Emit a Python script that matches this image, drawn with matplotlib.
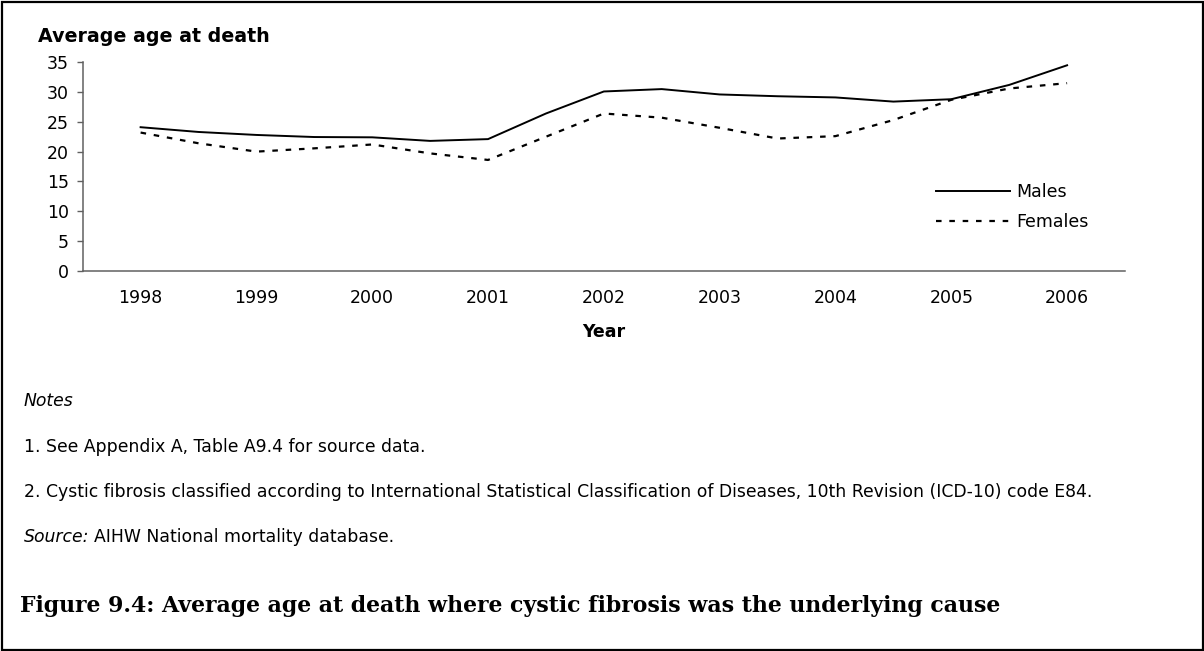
import matplotlib.pyplot as plt
from matplotlib.patches import Rectangle

plt.rcParams['font.family'] = ['DejaVu Sans']

# half-yearly points, labels on whole years
periods = [1998.0, 1998.5, 1999.0, 1999.5, 2000.0, 2000.5, 2001.0, 2001.5, 2002.0,
           2002.5, 2003.0, 2003.5, 2004.0, 2004.5, 2005.0, 2005.5, 2006.0]
males = [24.1, 23.3, 22.8, 22.45, 22.4, 21.8, 22.1, 26.4, 30.1,
         30.5, 29.6, 29.3, 29.1, 28.4, 28.8, 31.2, 34.5]
females = [23.2, 21.4, 20.0, 20.55, 21.2, 19.7, 18.6, 22.5, 26.4,
           25.7, 24.0, 22.2, 22.6, 25.3, 28.7, 30.6, 31.5]
year_labels = ['1998', '1999', '2000', '2001', '2002', '2003', '2004', '2005', '2006']
y_ticks = [0, 5, 10, 15, 20, 25, 30, 35]

W, H = 1204, 651
fig = plt.figure(figsize=(W/100, H/100), dpi=100)
ax = fig.add_axes([82.7/W, 1 - 270.7/H, (1125 - 82.7)/W, (270.7 - 62.3)/H])

ax.plot(periods, males, color='black', lw=1.4, label='Males')
ax.plot(periods, females, color='black', lw=1.6, ls=(0, (2.5, 3.5)), label='Females')

ax.set_xlim(1997.5, 2006.5)
ax.set_ylim(0, 35)
ax.set_xticks([int(y) for y in year_labels])
ax.set_xticklabels(year_labels, fontsize=12.5)
ax.set_yticks(y_ticks)
ax.set_yticklabels([str(v) for v in y_ticks], fontsize=12.5)
ax.tick_params(axis='x', length=0, pad=13)
ax.tick_params(axis='y', length=4.5, width=1, color='#606060', pad=5.5)
for s in ['top', 'right']:
    ax.spines[s].set_visible(False)
for s in ['left', 'bottom']:
    ax.spines[s].set_color('#606060')
    ax.spines[s].set_linewidth(1.1)

ax.set_xlabel('Year', fontsize=12.5, fontweight='bold', labelpad=12)

ax.legend(loc='center left', bbox_to_anchor=(927/W, 1 - 207/H), bbox_transform=fig.transFigure,
          frameon=False, borderpad=0, fontsize=12.5, handlelength=4.3,
          handletextpad=0.35, labelspacing=0.7)

fig.text(38/W, 1 - 37/H, 'Average age at death', fontsize=13.7, fontweight='bold', va='center')

nfs = 12.4
fig.text(24/W, 1 - 401/H, 'Notes', fontsize=nfs, style='italic', va='center')
fig.text(24/W, 1 - 447/H, '1. See Appendix A, Table A9.4 for source data.', fontsize=nfs, va='center')
fig.text(24/W, 1 - 492/H,
         '2. Cystic fibrosis classified according to International Statistical Classification of Diseases, '
         '10th Revision (ICD-10) code E84.', fontsize=nfs, va='center')
src = fig.text(24/W, 1 - 537/H, 'Source:', fontsize=nfs, style='italic', va='center')
fig.canvas.draw()
bb = src.get_window_extent()
fig.text((bb.x1 + 5)/W, 1 - 537/H, 'AIHW National mortality database.', fontsize=nfs, va='center')

fig.text(20/W, 1 - 606/H, 'Figure 9.4: Average age at death where cystic fibrosis was the underlying cause',
         fontsize=15.8, fontweight='bold', family='DejaVu Serif', va='center')

fig.patches.append(Rectangle((1.5/W, 1.5/H), (W - 3)/W, (H - 3)/H, transform=fig.transFigure,
                             fill=False, edgecolor='black', lw=1.6))

fig.savefig('out.png', dpi=100)
